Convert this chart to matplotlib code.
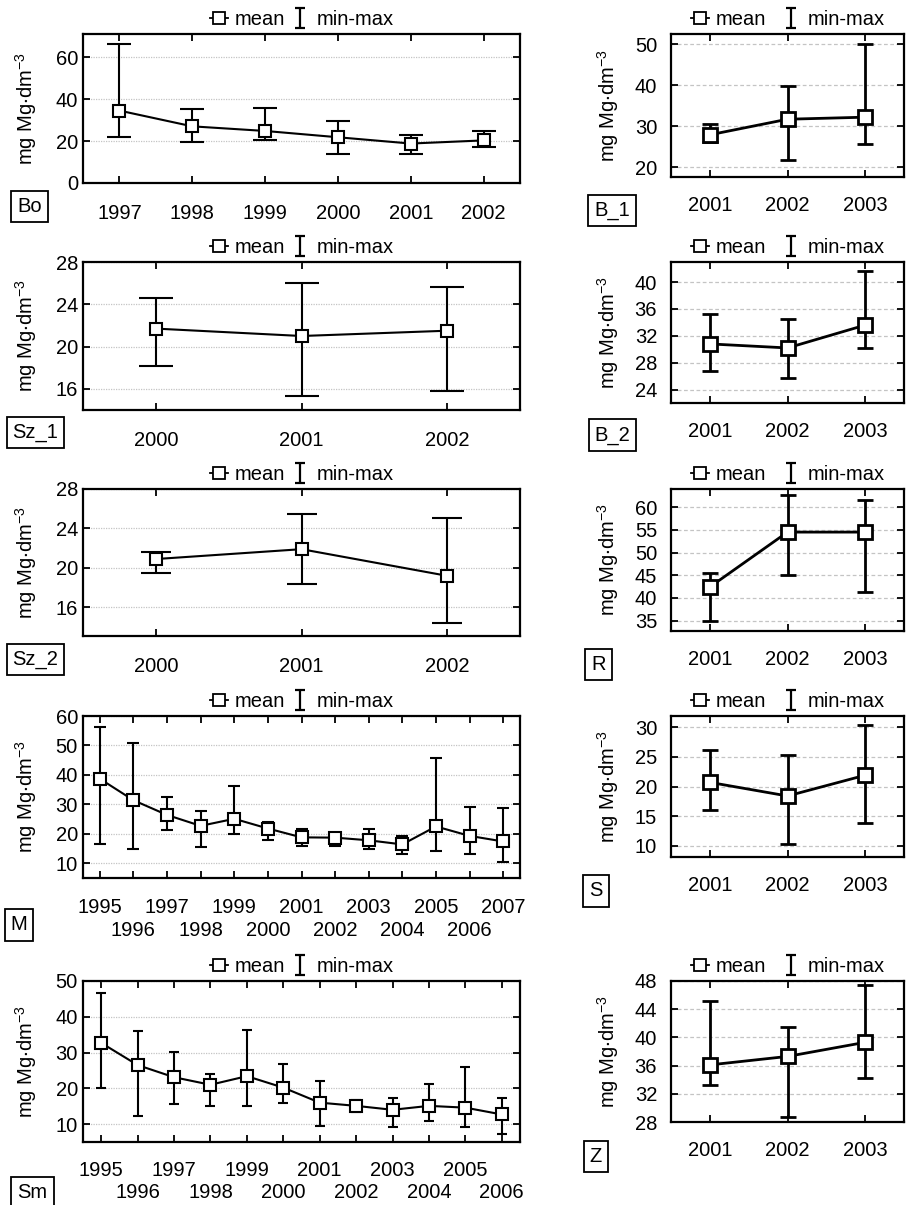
import matplotlib
matplotlib.use("Agg")
import matplotlib.pyplot as plt
from matplotlib.lines import Line2D
from matplotlib.path import Path

plt.rcParams['font.family'] = ['Liberation Sans', 'DejaVu Sans']
plt.rcParams['mathtext.fontset'] = 'custom'
plt.rcParams['mathtext.rm'] = 'Liberation Sans'
plt.rcParams['mathtext.it'] = 'Liberation Sans:italic'
plt.rcParams['mathtext.default'] = 'regular'

# ---- data: yearly mean with min-max range, mg Mg per dm3 ----
bo_years = [1997, 1998, 1999, 2000, 2001, 2002]
bo_mean = [34.5, 27.0, 24.8, 21.8, 18.8, 20.3]
bo_min = [21.8, 19.5, 20.6, 14.0, 13.8, 17.0]
bo_max = [66.3, 35.2, 35.9, 29.7, 22.7, 24.8]

sz1_years = [2000, 2001, 2002]
sz1_mean = [21.7, 21.0, 21.5]
sz1_min = [18.2, 15.3, 15.8]
sz1_max = [24.6, 26.0, 25.6]

sz2_years = [2000, 2001, 2002]
sz2_mean = [20.9, 21.9, 19.2]
sz2_min = [19.5, 18.4, 14.4]
sz2_max = [21.6, 25.5, 25.1]

m_years = list(range(1995, 2008))
m_mean = [38.7, 31.4, 26.4, 22.7, 25.1, 21.8, 18.8, 18.7, 17.8, 16.4, 22.5, 19.3, 17.4]
m_min = [16.4, 15.0, 21.4, 15.5, 19.8, 18.0, 15.7, 15.9, 14.8, 13.3, 14.0, 13.3, 10.6]
m_max = [56.1, 51.0, 32.4, 27.7, 36.4, 23.9, 21.8, 20.2, 21.8, 19.2, 45.9, 29.0, 28.7]

sm_years = list(range(1995, 2007))
sm_mean = [32.7, 26.5, 23.1, 21.0, 23.4, 20.2, 16.0, 15.1, 14.0, 15.1, 14.6, 12.7]
sm_min = [20.2, 12.3, 15.6, 15.1, 15.1, 15.8, 9.5, 13.5, 9.2, 10.9, 9.2, 7.3]
sm_max = [46.7, 36.1, 30.1, 23.9, 36.3, 26.8, 22.0, 16.7, 17.3, 21.3, 26.1, 17.3]

short_years = [2001, 2002, 2003]

b1_mean = [27.9, 31.7, 32.2]
b1_min = [26.2, 21.7, 25.6]
b1_max = [30.6, 39.9, 50.0]

b2_mean = [30.8, 30.2, 33.6]
b2_min = [26.7, 25.7, 30.2]
b2_max = [35.2, 34.5, 41.6]

r_mean = [42.4, 54.5, 54.5]
r_min = [35.0, 45.0, 41.4]
r_max = [45.5, 62.6, 61.5]

s_mean = [20.7, 18.4, 21.9]
s_min = [16.1, 10.3, 13.8]
s_max = [26.1, 25.3, 30.4]

z_mean = [36.1, 37.3, 39.3]
z_min = [33.2, 28.7, 34.2]
z_max = [45.1, 41.5, 47.4]

site_labels = ["Bo", "Sz_1", "Sz_2", "M", "Sm", "B_1", "B_2", "R", "S", "Z"]

Y_LABEL = r"mg Mg$\cdot$dm$^{-3}$"
FS = 14.5

W, H = 906, 1205
fig = plt.figure(figsize=(W / 100, H / 100), dpi=100)

# I-beam glyph used for the min-max legend entry
IBEAM = Path([(-0.5, 1), (0.5, 1), (0, 1), (0, -1), (-0.5, -1), (0.5, -1)],
             [Path.MOVETO, Path.LINETO, Path.MOVETO, Path.LINETO,
              Path.MOVETO, Path.LINETO])


def px_axes(left, top, right, bottom):
    return fig.add_axes([left / W, 1 - bottom / H, (right - left) / W, (bottom - top) / H])


def draw_panel(ax, years, mean, lo, hi, yticks, ylim, xlim, wide,
               capsize, stagger=False, xpad=15):
    lw = 1.5 if wide else 2.0
    ms = 8.5 if wide else 10.5
    err = [[m - a for m, a in zip(mean, lo)], [b - m for m, b in zip(mean, hi)]]
    ax.errorbar(years, mean, yerr=err, fmt='none', ecolor='black',
                elinewidth=lw, capsize=capsize, capthick=lw, zorder=3)
    ax.plot(years, mean, color='black', lw=lw, marker='s', markersize=ms,
            markerfacecolor='white', markeredgecolor='black',
            markeredgewidth=lw, zorder=4)
    ax.set_ylim(*ylim)
    ax.set_xlim(*xlim)
    ax.set_yticks(yticks)
    ax.yaxis.grid(True, color='#c4c4c4', lw=0.9,
                  linestyle=(0, (1, 1)) if wide else (0, (3, 2)))
    ax.set_axisbelow(True)
    if stagger:
        row1 = [y for y in years if y % 2 == 1]
        row2 = [y for y in years if y % 2 == 0]
        ax.set_xticks(row1)
        ax.set_xticklabels([str(y) for y in row1])
        ax.set_xticks(row2, minor=True)
        ax.set_xticklabels([str(y) for y in row2], minor=True)
        ax.tick_params(axis='x', which='minor', pad=xpad + 16.3)
    else:
        ax.set_xticks(years)
        ax.set_xticklabels([str(y) for y in years])
    ax.tick_params(axis='both', which='both', direction='in', length=5, width=1.3,
                   top=True, right=True, labelsize=FS)
    ax.tick_params(axis='x', which='major', pad=xpad)
    ax.tick_params(axis='y', pad=3.6 if wide else 10)
    for sp in ax.spines.values():
        sp.set_linewidth(1.6)
    ax.set_ylabel(Y_LABEL, fontsize=FS)
    ax.yaxis.set_label_coords(-0.101 if wide else -0.215, 0.5)

    mean_h = Line2D([], [], color='black', lw=1.3, marker='s', markersize=9,
                    markerfacecolor='white', markeredgecolor='black', markeredgewidth=1.3)
    range_h = Line2D([], [], color='black', linestyle='none', marker=IBEAM,
                     markersize=14, markeredgewidth=1.6)
    ax.legend([mean_h, range_h], ['mean', 'min-max'], ncol=2, frameon=False,
              loc='lower center', bbox_to_anchor=(0.5, 1.0), borderaxespad=0.15,
              borderpad=0.1, handlelength=0.9, handletextpad=0.35,
              columnspacing=0.3 if wide else 0.8, fontsize=FS)


def site_box(text, cx, cy):
    fig.text(cx / W, 1 - cy / H, text, fontsize=FS, ha='center', va='center',
             bbox=dict(boxstyle='square,pad=0.3', facecolor='white',
                       edgecolor='black', linewidth=1.3))


# left column
ax = px_axes(83, 34, 520, 183)
draw_panel(ax, bo_years, bo_mean, bo_min, bo_max, [0, 20, 40, 60], (0, 71),
           (1996.5, 2002.5), True, 8.3)
ax = px_axes(83, 262, 520, 410)
draw_panel(ax, sz1_years, sz1_mean, sz1_min, sz1_max, [16, 20, 24, 28], (14, 28),
           (1999.5, 2002.5), True, 12)
ax = px_axes(83, 489, 520, 636)
draw_panel(ax, sz2_years, sz2_mean, sz2_min, sz2_max, [16, 20, 24, 28], (13.1, 28),
           (1999.5, 2002.5), True, 10.8)
ax = px_axes(83, 716, 520, 878)
draw_panel(ax, m_years, m_mean, m_min, m_max, [10, 20, 30, 40, 50, 60], (5, 60),
           (1994.5, 2007.5), True, 4.3, stagger=True, xpad=14.5)
ax = px_axes(83, 981, 520, 1142)
draw_panel(ax, sm_years, sm_mean, sm_min, sm_max, [10, 20, 30, 40, 50], (5, 50),
           (1994.5, 2006.5), True, 3.8, stagger=True, xpad=13.5)

# right column
ax = px_axes(671, 34, 904, 177)
draw_panel(ax, short_years, b1_mean, b1_min, b1_max, [20, 30, 40, 50], (17.6, 52.5),
           (2000.5, 2003.5), False, 5.7, xpad=13.5)
ax = px_axes(671, 262, 904, 403)
draw_panel(ax, short_years, b2_mean, b2_min, b2_max, [24, 28, 32, 36, 40], (22, 43),
           (2000.5, 2003.5), False, 5.7, xpad=13.5)
ax = px_axes(671, 489, 904, 631)
draw_panel(ax, short_years, r_mean, r_min, r_max, [35, 40, 45, 50, 55, 60], (32.7, 64),
           (2000.5, 2003.5), False, 5.7, xpad=13.5)
ax = px_axes(671, 716, 904, 857)
draw_panel(ax, short_years, s_mean, s_min, s_max, [10, 15, 20, 25, 30], (8.1, 31.9),
           (2000.5, 2003.5), False, 5.7, xpad=13.5)
ax = px_axes(671, 981, 904, 1122)
draw_panel(ax, short_years, z_mean, z_min, z_max, [28, 32, 36, 40, 44, 48], (28, 48),
           (2000.5, 2003.5), False, 6, xpad=13.5)

# site name boxes
box_centres = [(29.5, 206.5), (35.5, 432.5), (35.5, 659.5), (19, 925), (32.5, 1193),
               (612, 210.5), (612.5, 435), (598.5, 664.5), (596, 891), (596, 1156.5)]
for name, (cx, cy) in zip(site_labels, box_centres):
    site_box(name, cx, cy)

fig.savefig("out.png", dpi=100)
